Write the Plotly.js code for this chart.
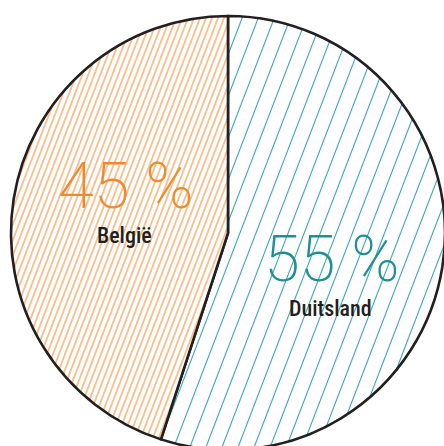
<!DOCTYPE html>
<html>
<head>
<meta charset="utf-8">
<script src="https://cdn.plot.ly/plotly-3.0.1.min.js"></script>
<style>
html,body{margin:0;padding:0;overflow:hidden;background:#fff;width:444px;height:446px;}
#chart{width:456px;height:466px;}
</style>
</head>
<body>
<div id="chart"></div>
<script>
// Slices drawn clockwise from 12 o'clock: Duitsland on the right, België on the left
const countries = ["Duitsland", "België"];
const shares = [55, 45];
const shareLabels = ["55 %", "45 %"];
const hatchColors = ["#3AA3AE", "#F7923A"];
const textColors = ["#1E8E98", "#F08A2E"];

const W = 456, H = 466, ML = 11, MT = 16, PW = 434, PH = 434;
function px(x){ return (x - ML) / PW; }
function py(y){ return 1 - (y - MT) / PH; }

const trace = {
  type: "pie",
  labels: countries,
  values: shares,
  sort: false,
  direction: "clockwise",
  rotation: 0,
  textinfo: "none",
  marker: {
    colors: ["#ffffff", "#ffffff"],
    line: {color: "#231F20", width: 2.6},
    pattern: {
      shape: ["|", "|"],
      fgcolor: hatchColors,
      bgcolor: ["#ffffff", "#ffffff"],
      fgopacity: 1,
      size: [15, 5.6],
      solidity: [0.075, 0.19],
      fillmode: "overlay"
    }
  },
  domain: {x: [0, 1], y: [0, 1]},
  showlegend: false
};

const numFont = {family: "Roboto, sans-serif", weight: 200, size: 65};
const nameFont = {family: "'Roboto Condensed', Roboto, sans-serif", weight: 500, size: 22, color: "#231F20"};

const annotations = [
  {text: shareLabels[1], x: px(126), y: py(186), font: Object.assign({}, numFont, {color: textColors[1]})},
  {text: countries[1], x: px(125), y: py(235), font: nameFont},
  {text: shareLabels[0], x: px(332), y: py(259), font: Object.assign({}, numFont, {color: textColors[0]})},
  {text: countries[0], x: px(330), y: py(308), font: nameFont}
].map(a => Object.assign({xref: "paper", yref: "paper", showarrow: false, xanchor: "center", yanchor: "middle"}, a));

const layout = {
  width: W, height: H,
  margin: {l: ML, r: W - ML - PW, t: MT, b: H - MT - PH, pad: 0},
  paper_bgcolor: "#ffffff",
  plot_bgcolor: "#ffffff",
  showlegend: false,
  annotations: annotations
};

Plotly.newPlot("chart", [trace], layout, {staticPlot: true, displayModeBar: false}).then(function(gd){
  gd.querySelectorAll("pattern").forEach(function(p){
    p.setAttribute("patternTransform", "rotate(21)");
  });
});
</script>
</body>
</html>
